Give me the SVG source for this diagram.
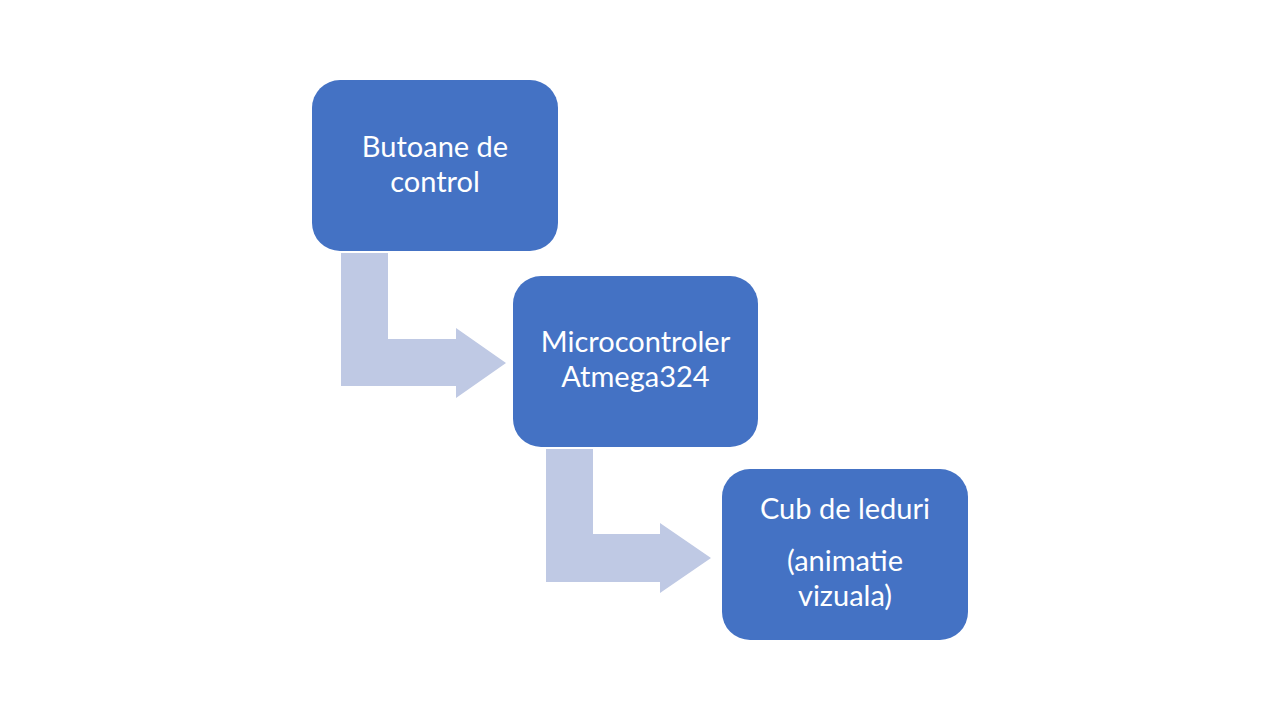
<svg xmlns="http://www.w3.org/2000/svg" width="1280" height="720" viewBox="0 0 1280 720">
<style>
.node{fill:#4472C4}
.arrow{fill:#BFC9E4}
.lbl{fill:#FFFFFF;font-family:Lato,"Open Sans","Liberation Sans",sans-serif;font-size:29px;text-anchor:middle}
</style>
<rect width="1280" height="720" fill="#FFFFFF"/>
<g id="connectors">
<path class="arrow" d="M341 253 H388 V339 H456 V328 L506 363 L456 398 V386 H341 Z"/>
<path class="arrow" d="M546 449 H593 V534 H660 V523 L711 558 L660 593 V582 H546 Z"/>
</g>
<g id="node-butoane">
<rect class="node" x="312" y="80" width="246" height="171" rx="28" ry="28"/>
<text class="lbl" x="435" y="157">Butoane de</text>
<text class="lbl" x="435" y="192">control</text>
</g>
<g id="node-micro">
<rect class="node" x="513" y="276" width="245" height="171" rx="28" ry="28"/>
<text class="lbl" x="635.5" y="352">Microcontroler</text>
<text class="lbl" x="635.5" y="387">Atmega324</text>
</g>
<g id="node-cub">
<rect class="node" x="722" y="469" width="246" height="171" rx="28" ry="28"/>
<text class="lbl" x="845" y="519">Cub de leduri</text>
<text class="lbl" x="845" y="571">(animatie</text>
<text class="lbl" x="845" y="606">vizuala)</text>
</g>
</svg>
